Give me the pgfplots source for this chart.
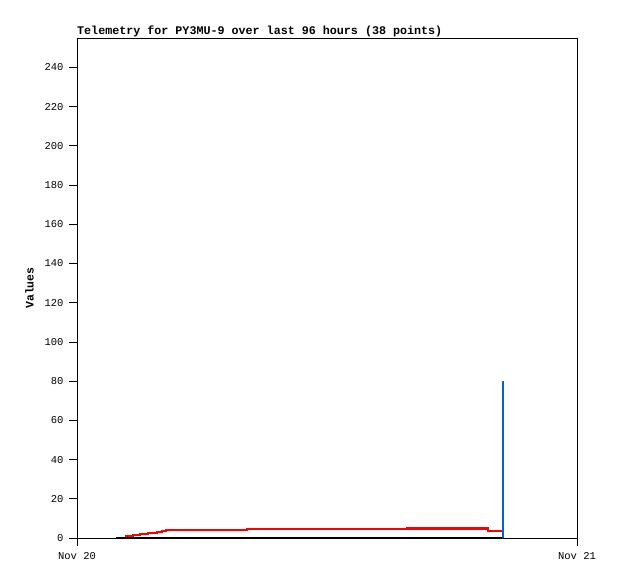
\documentclass[border=0pt]{standalone}
\usepackage{pgfplots}
\pgfplotsset{compat=1.18}
\usepackage{fontspec}
\setmainfont{Liberation Mono}
\setmonofont{Liberation Mono}
\definecolor{tblue}{RGB}{0,102,204}
\begin{document}
\begin{tikzpicture}
\useasboundingbox (0,0) rectangle (618bp,579bp);
\begin{axis}[
  at={(77bp,41bp)}, anchor=south west,
  width=500bp, height=500bp, scale only axis,
  xmin=0, xmax=24, ymin=0, ymax=255,
  xtick={0,24}, xticklabels={Nov 20,Nov 21},
  ytick={0,20,...,240},
  xtick pos=left, ytick pos=left,
  tick align=outside, major tick length=8bp,
  tick style={black, line width=0.8bp},
  axis line style={line width=0.8bp},
  /pgf/number format/assume math mode=true,
  tick label style={font=\fontsize{10.5bp}{12bp}\selectfont},
  xticklabel style={yshift=-3bp},
  yticklabel style={xshift=-2bp},
  title={\bfseries Telemetry for PY3MU-9 over last 96 hours (38 points)},
  title style={at={(0,1)}, anchor=south west, inner xsep=0pt, yshift=-8bp, font=\fontsize{11.7bp}{13bp}\selectfont},
  ylabel={\bfseries Values},
  ylabel style={font=\fontsize{11.5bp}{13bp}\selectfont, yshift=4bp},
  clip=false,
]
\addplot[black, line width=2bp] coordinates {(1.87,0) (20.45,0)};
\addplot[red, line width=2.2bp, const plot] coordinates {
(2.30,0.9) (2.69,1.4) (3.02,1.9) (3.41,2.4) (3.84,2.9) (4.08,3.5) (4.27,4.0)
(8.16,4.4) (15.84,4.8) (19.73,3.6) (20.45,3.6)};
\addplot[tblue, line width=2bp] coordinates {(20.45,0) (20.45,80)};
\end{axis}
\end{tikzpicture}
\end{document}
